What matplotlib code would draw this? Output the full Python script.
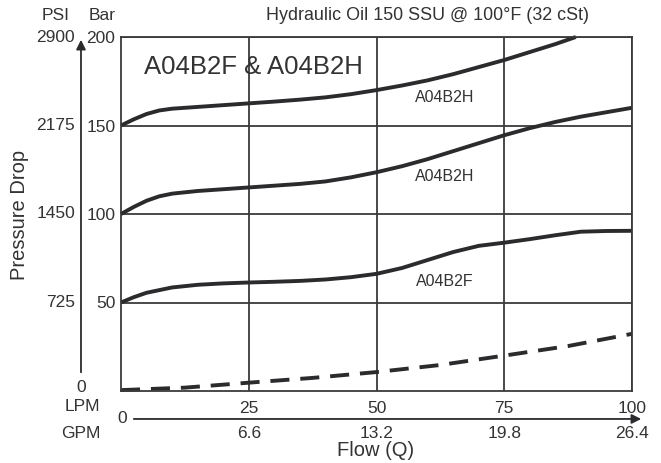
import matplotlib
matplotlib.use('Agg')
from matplotlib import pyplot as plt

plt.rcParams['font.family'] = ['Liberation Sans', 'DejaVu Sans']

# Flow (LPM) and pressure drop (bar)
flow = [0, 2.5, 5, 7.5, 10, 15, 20, 25, 30, 35, 40, 45, 50, 55, 60, 65, 70, 75, 80, 85, 90, 95, 100]
h_upper_flow = [0, 2.5, 5, 7.5, 10, 15, 20, 25, 30, 35, 40, 45, 50, 55, 60, 65, 70, 75, 80, 85, 89]
h_upper = [150, 153.5, 156.5, 158.5, 159.5, 160.5, 161.5, 162.5, 163.5, 164.6, 165.9, 167.7, 170,
           172.6, 175.5, 179, 183, 187, 191.5, 196, 200]
h_lower = [100, 104, 107.5, 110, 111.5, 113, 114, 115, 116, 117, 118.4, 120.7, 123.6, 127, 131,
           135.5, 140, 144.5, 148.5, 152, 155, 157.5, 160]
f_curve = [50, 53, 55.5, 57, 58.5, 60, 60.8, 61.3, 61.7, 62.2, 63, 64.3, 66.2, 69.5, 74, 78.5, 82,
           83.8, 85.8, 88, 90, 90.4, 90.5]
dash_flow = [0, 12.5, 25, 37.5, 50, 62.5, 75, 87.5, 100]
dash_curve = [0.5, 1.9, 4.7, 7.4, 10.7, 14.7, 20, 25.4, 32.3]

lpm_ticks = [25, 50, 75, 100]
gpm_labels = ['6.6', '13.2', '19.8', '26.4']
bar_ticks = [50, 100, 150, 200]
psi_labels = ['725', '1450', '2175', '2900']

dark = '#2b2b2e'
grid_col = '#3a3a3c'
txt = '#333333'

fig = plt.figure(figsize=(6.61, 4.63), dpi=100)
ax = fig.add_axes([121 / 661, 1 - 391 / 463, 511 / 661, 354 / 463])
ax.set_xlim(0, 100)
ax.set_ylim(0, 200)

ax.set_xticks(lpm_ticks)
ax.set_yticks(bar_ticks)
ax.tick_params(length=0, labelsize=12.5, labelcolor=txt)
ax.tick_params(axis='x', pad=7)
ax.tick_params(axis='y', pad=4)
ax.grid(color=grid_col, lw=1.3)
ax.set_axisbelow(True)
for s in ax.spines.values():
    s.set_color(grid_col)
    s.set_linewidth(1.3)

ax.plot(h_upper_flow, h_upper, color=dark, lw=2.8, solid_capstyle='butt', clip_on=False)
ax.plot(flow, h_lower, color=dark, lw=2.8, solid_capstyle='butt', clip_on=False)
ax.plot(flow, f_curve, color=dark, lw=2.8, solid_capstyle='butt', clip_on=False)
ax.plot(dash_flow, dash_curve, color=dark, lw=2.8, linestyle=(0, (4.9, 2.8)), clip_on=False)

ax.text(63.3, 166, 'A04B2H', fontsize=11.5, color=txt, ha='center', va='center')
ax.text(63.3, 121, 'A04B2H', fontsize=11.5, color=txt, ha='center', va='center')
ax.text(63.3, 61.6, 'A04B2F', fontsize=11.5, color=txt, ha='center', va='center')
ax.text(0.26, 0.915, 'A04B2F & A04B2H', transform=ax.transAxes, fontsize=18.5,
        color=txt, ha='center', va='center')

# PSI scale on the far left
ytr = ax.get_yaxis_transform()
for val, lab in zip(bar_ticks, psi_labels):
    ax.text(-0.09, val, lab, transform=ytr, fontsize=12.5, color=txt, ha='right', va='center')
ax.text(-0.0783, 1.7, '0', transform=ytr, fontsize=12.5, color=txt, ha='center', va='center')

# GPM scale below
xtr = ax.get_xaxis_transform()
for val, lab in zip(lpm_ticks, gpm_labels):
    ax.text(val, -0.119, lab, transform=xtr, fontsize=12.5, color=txt, ha='center', va='center')
ax.text(-0.04, -0.045, 'LPM', transform=ax.transAxes, fontsize=12.5, color=txt, ha='right', va='center')
ax.text(-0.04, -0.119, 'GPM', transform=ax.transAxes, fontsize=12.5, color=txt, ha='right', va='center')
ax.text(0.002, -0.079, '0', transform=ax.transAxes, fontsize=12.5, color=txt, ha='center', va='center')

# axis arrows
ax.annotate('', xy=(-0.0783, 1.0), xytext=(-0.0783, 0.045), xycoords='axes fraction',
            arrowprops=dict(arrowstyle='-|>', color=dark, lw=1.3, mutation_scale=14))
ax.annotate('', xy=(1.0235, -0.079), xytext=(0.0196, -0.079), xycoords='axes fraction',
            arrowprops=dict(arrowstyle='-|>', color=dark, lw=1.3, mutation_scale=14))

fig.text(56 / 661, 1 - 16 / 463, 'PSI', fontsize=12.5, color=txt, ha='center', va='center')
fig.text(102 / 661, 1 - 16 / 463, 'Bar', fontsize=12.5, color=txt, ha='center', va='center')
fig.text(428 / 661, 1 - 16 / 463, 'Hydraulic Oil 150 SSU @ 100°F (32 cSt)', fontsize=12.9,
         color=txt, ha='center', va='center')
fig.text(20 / 661, 1 - 215 / 463, 'Pressure Drop', fontsize=14.5, color=txt, rotation=90,
         ha='center', va='center')
fig.text(376 / 661, 1 - 451 / 463, 'Flow (Q)', fontsize=14.5, color=txt, ha='center', va='center')

fig.savefig('out.png', dpi=100)
